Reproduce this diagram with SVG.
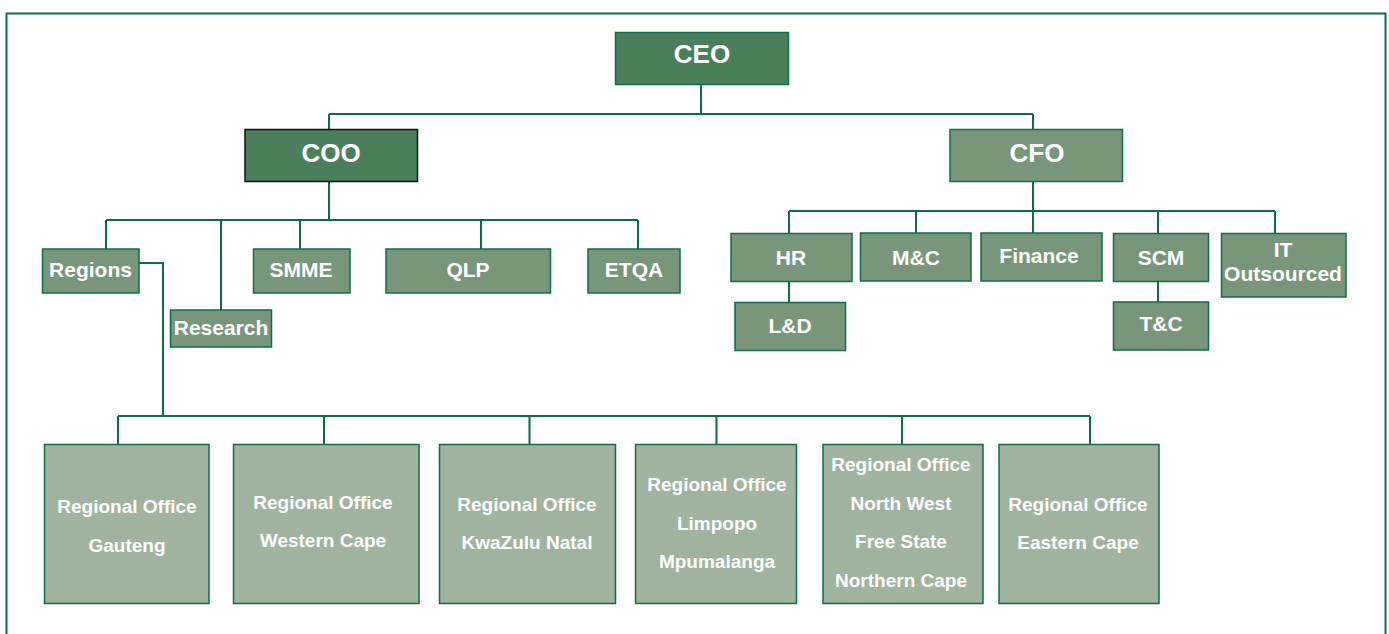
<svg xmlns="http://www.w3.org/2000/svg" width="1389" height="634" viewBox="0 0 1389 634">
<style>
.box{stroke:#0d6e47;stroke-width:1.5}
.dark{fill:#4a7f5c}
.mid{fill:#78977a}
.light{fill:#a0b39f}
.conn{fill:none;stroke:#0d6b45;stroke-width:2}
text{font-family:"Liberation Sans",Arial,sans-serif;font-weight:bold;fill:#ffffff;text-anchor:middle}
.big{font-size:26px}
.med{font-size:21px}
.sm{font-size:19px}
</style>
<rect x="0" y="0" width="1389" height="634" fill="#ffffff"/>
<path d="M6.5,640 V13.5 H1385.5 V640" fill="none" stroke="#0d6e47" stroke-width="2"/>
<g id="connectors" class="conn">
<path d="M701,84 V114 M329,114 H1033 M329,114 V129 M1033,114 V129"/>
<path d="M329,182 V220 M106,220 H638 M106,220 V249 M221,220 V310 M300,220 V249 M481,220 V249 M638,220 V249"/>
<path d="M139,263 H163 V416 M118,416 H1090 M118,416 V444 M324,416 V444 M529.5,416 V444 M716.5,416 V444 M902,416 V444 M1090,416 V444"/>
<path d="M1033,182 V211 M789,211 H1275 M789,211 V233 M916,211 V233 M1033,211 V233 M1158,211 V233 M1275,211 V233"/>
<path d="M789,281 V302 M1158,281 V302"/>
</g>
<g id="ceo"><rect class="box dark" x="615.5" y="32.5" width="173" height="52"/><text class="big" x="702" y="63">CEO</text></g>
<g id="coo"><rect class="dark" x="245" y="129.5" width="172.5" height="52" stroke="#111" stroke-width="1.5"/><text class="big" x="331" y="162">COO</text></g>
<g id="cfo"><rect class="box mid" x="950" y="129.5" width="172.5" height="52"/><text class="big" x="1037" y="162">CFO</text></g>
<g id="regions"><rect class="box mid" x="42.5" y="249" width="96.5" height="44"/><text class="med" x="90.5" y="277">Regions</text></g>
<g id="research"><rect class="box mid" x="170.5" y="310" width="101" height="37"/><text class="med" x="221" y="335">Research</text></g>
<g id="smme"><rect class="box mid" x="253.5" y="249" width="96.5" height="44"/><text class="med" x="301" y="277">SMME</text></g>
<g id="qlp"><rect class="box mid" x="386" y="249" width="164.5" height="44"/><text class="med" x="468" y="277">QLP</text></g>
<g id="etqa"><rect class="box mid" x="588" y="249" width="92" height="44"/><text class="med" x="634" y="277">ETQA</text></g>
<g id="hr"><rect class="box mid" x="731" y="233.5" width="121" height="48"/><text class="med" x="791" y="265">HR</text></g>
<g id="ld"><rect class="box mid" x="735" y="302.5" width="110.5" height="48"/><text class="med" x="790" y="333">L&amp;D</text></g>
<g id="mc"><rect class="box mid" x="860.5" y="233" width="110.5" height="48"/><text class="med" x="916" y="265">M&amp;C</text></g>
<g id="finance"><rect class="box mid" x="981" y="233" width="121" height="48"/><text class="med" x="1039" y="263">Finance</text></g>
<g id="scm"><rect class="box mid" x="1113.5" y="233.5" width="95" height="48"/><text class="med" x="1161" y="265">SCM</text></g>
<g id="tc"><rect class="box mid" x="1113.5" y="302" width="95" height="48"/><text class="med" x="1161" y="331">T&amp;C</text></g>
<g id="it"><rect class="box mid" x="1221.5" y="233.5" width="124.5" height="63.5"/><text class="med" x="1283" y="257">IT</text><text class="med" x="1283" y="281">Outsourced</text></g>
<g id="ro-gauteng"><rect class="box light" x="44.5" y="444.5" width="164.5" height="159"/><text class="sm" x="127" y="513">Regional Office</text><text class="sm" x="127" y="552">Gauteng</text></g>
<g id="ro-westerncape"><rect class="box light" x="233.5" y="444.5" width="185.5" height="159"/><text class="sm" x="323" y="509">Regional Office</text><text class="sm" x="323" y="547">Western Cape</text></g>
<g id="ro-kzn"><rect class="box light" x="439.5" y="444.5" width="176" height="159"/><text class="sm" x="527" y="511">Regional Office</text><text class="sm" x="527" y="549">KwaZulu Natal</text></g>
<g id="ro-limpopo"><rect class="box light" x="635.5" y="444.5" width="161" height="159"/><text class="sm" x="717" y="491">Regional Office</text><text class="sm" x="717" y="530">Limpopo</text><text class="sm" x="717" y="568">Mpumalanga</text></g>
<g id="ro-northwest"><rect class="box light" x="823" y="444.5" width="160" height="159"/><text class="sm" x="901" y="471">Regional Office</text><text class="sm" x="901" y="510">North West</text><text class="sm" x="901" y="548">Free State</text><text class="sm" x="901" y="587">Northern Cape</text></g>
<g id="ro-easterncape"><rect class="box light" x="999" y="444.5" width="160" height="159"/><text class="sm" x="1078" y="511">Regional Office</text><text class="sm" x="1078" y="549">Eastern Cape</text></g>
</svg>
